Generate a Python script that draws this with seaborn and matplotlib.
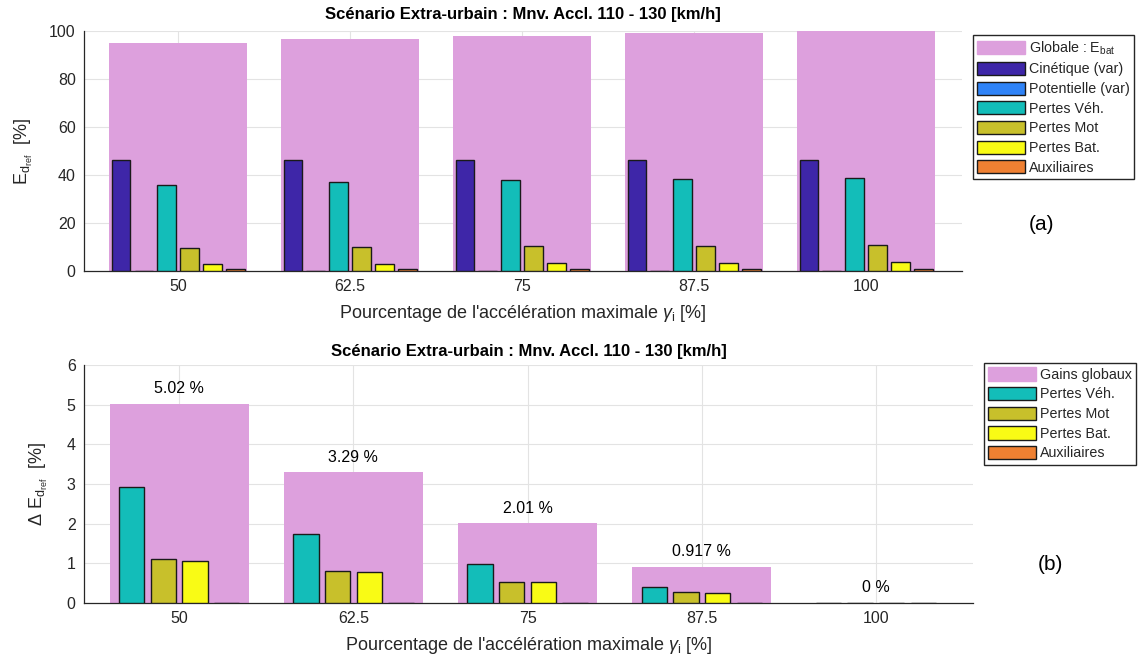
import matplotlib
matplotlib.use("Agg")
import matplotlib.pyplot as plt
from matplotlib.patches import Patch
import seaborn as sns
import pandas as pd
import numpy as np

# ---------------- data ----------------
categories = ["50", "62.5", "75", "87.5", "100"]

# top chart (a)
globale = [94.98, 96.71, 97.99, 99.08, 100.0]
cinetique = [46.2, 46.2, 46.2, 46.2, 46.2]
potentielle = [0.0, 0.0, 0.0, 0.0, 0.0]
pertes_veh = [36.0, 37.2, 37.9, 38.5, 38.9]
pertes_mot = [9.7, 10.0, 10.3, 10.5, 10.8]
pertes_bat = [2.8, 3.0, 3.3, 3.5, 3.8]
auxiliaires = [0.8, 0.8, 0.8, 0.8, 0.8]

# bottom chart (b)
gains = [5.02, 3.29, 2.01, 0.917, 0.0]
gain_labels = ["5.02 %", "3.29 %", "2.01 %", "0.917 %", "0 %"]
d_veh = [2.92, 1.74, 0.98, 0.40, 0.0]
d_mot = [1.10, 0.81, 0.53, 0.27, 0.0]
d_bat = [1.05, 0.78, 0.52, 0.26, 0.0]
d_aux = [0.0, 0.0, 0.0, 0.0, 0.0]

top_series = ["Cinétique (var)", "Potentielle (var)", "Pertes Véh.", "Pertes Mot",
              "Pertes Bat.", "Auxiliaires"]
bot_series = ["Pertes Véh.", "Pertes Mot", "Pertes Bat.", "Auxiliaires"]

# ---------------- style ----------------
col = {
    "Cinétique (var)": "#3e26a8",
    "Potentielle (var)": "#2f83f7",
    "Pertes Véh.": "#13bdb9",
    "Pertes Mot": "#c8c02b",
    "Pertes Bat.": "#f9fb15",
    "Auxiliaires": "#ef8032",
}
pink = "#dda0dd"
txtc = "#262626"

sns.set_style("white")
plt.rcParams["font.family"] = ["Liberation Sans", "DejaVu Sans"]
plt.rcParams["mathtext.fontset"] = "custom"
plt.rcParams["mathtext.rm"] = "Liberation Sans"
plt.rcParams["mathtext.it"] = "Liberation Sans:italic"
plt.rcParams["mathtext.bf"] = "Liberation Sans:bold"

fig = plt.figure(figsize=(11.41, 6.57), dpi=100)
ax1 = fig.add_axes([84/1141, 1-271/657, (962-84)/1141, (271-31)/657])
ax2 = fig.add_axes([84/1141, 1-603/657, (973-84)/1141, (603-365)/657])

title = "Scénario Extra-urbain : Mnv. Accl. 110 - 130 [km/h]"
xlab = r"Pourcentage de l'accélération maximale $\gamma_{\mathrm{i}}$ [%]"


def style_axes(ax, ylim, yticks, tpad):
    ax.set_xlim(-0.547, 4.558)
    ax.set_ylim(*ylim)
    ax.set_yticks(yticks)
    ax.grid(True, color="#e3e3e3", linewidth=0.8)
    ax.set_axisbelow(True)
    for s in ["top", "right"]:
        ax.spines[s].set_visible(False)
    for s in ["left", "bottom"]:
        ax.spines[s].set_color(txtc)
        ax.spines[s].set_linewidth(0.9)
    ax.tick_params(direction="in", length=5, width=0.8, colors=txtc,
                   labelsize=11.5, pad=6)
    ax.set_title(title, fontsize=12, fontweight="bold", color="black", pad=tpad)
    ax.set_xlabel(xlab, fontsize=13, color=txtc, labelpad=6)


def legend(handles, x, y):
    fig.legend(handles=handles, loc="upper left", bbox_to_anchor=(x, y),
               fontsize=10.3, frameon=True, fancybox=False, edgecolor="#262626",
               framealpha=1, handlelength=3.3, handleheight=1.05,
               labelspacing=0.36, handletextpad=0.3, borderpad=0.3,
               borderaxespad=0)


# ---------- top ----------
df_g = pd.DataFrame({"cat": categories, "val": globale})
sns.barplot(data=df_g, x="cat", y="val", order=categories, color=pink,
            width=0.8, saturation=1, linewidth=0, ax=ax1, zorder=2)

top_vals = [cinetique, potentielle, pertes_veh, pertes_mot, pertes_bat, auxiliaires]
rows = []
for name, vals in zip(top_series, top_vals):
    for c, v in zip(categories, vals):
        rows.append({"cat": c, "serie": name, "val": v})
df_t = pd.DataFrame(rows)
sns.barplot(data=df_t, x="cat", y="val", hue="serie", order=categories,
            hue_order=top_series, palette=col, width=0.8, gap=0.2,
            saturation=1, edgecolor="#1a1a1a", linewidth=1.0, ax=ax1,
            legend=False, zorder=3)
style_axes(ax1, (0, 100), [0, 20, 40, 60, 80, 100], 9)
ax1.set_ylabel(r"$\mathrm{E_{d_{ref}}}$  [%]", fontsize=13, color=txtc, labelpad=10)

h1 = [Patch(facecolor=pink, edgecolor=pink, label=r"Globale : $\mathrm{E_{bat}}$")]
h1 += [Patch(facecolor=col[n], edgecolor="#1a1a1a", label=n) for n in top_series]
legend(h1, 973/1141, 1-35/657)

fig.text(1041/1141, 1-224/657, "(a)", fontsize=15, ha="center", va="center",
         color="black")

# ---------- bottom ----------
df_gb = pd.DataFrame({"cat": categories, "val": gains})
sns.barplot(data=df_gb, x="cat", y="val", order=categories, color=pink,
            width=0.8, saturation=1, linewidth=0, ax=ax2, zorder=2)

bot_vals = [d_veh, d_mot, d_bat, d_aux]
rows = []
for name, vals in zip(bot_series, bot_vals):
    for c, v in zip(categories, vals):
        rows.append({"cat": c, "serie": name, "val": v})
df_b = pd.DataFrame(rows)
sns.barplot(data=df_b, x="cat", y="val", hue="serie", order=categories,
            hue_order=bot_series, palette=col, width=0.727, gap=0.2,
            saturation=1, edgecolor="#1a1a1a", linewidth=1.0, ax=ax2,
            legend=False, zorder=3)
style_axes(ax2, (0, 6), [0, 1, 2, 3, 4, 5, 6], 6.5)
ax2.set_ylabel(r"$\Delta\ \mathrm{E_{d_{ref}}}$  [%]", fontsize=13, color=txtc,
               labelpad=12)

for i, (g, lab) in enumerate(zip(gains, gain_labels)):
    ax2.text(i, g + 0.38, lab, ha="center", va="center", fontsize=11.5,
             color="black", zorder=5)

h2 = [Patch(facecolor=pink, edgecolor=pink, label="Gains globaux")]
h2 += [Patch(facecolor=col[n], edgecolor="#1a1a1a", label=n) for n in bot_series]
legend(h2, 984/1141, 1-363/657)

fig.text(1050/1141, 1-565/657, "(b)", fontsize=15, ha="center", va="center",
         color="black")

fig.savefig("out.png", dpi=100, facecolor="white")
